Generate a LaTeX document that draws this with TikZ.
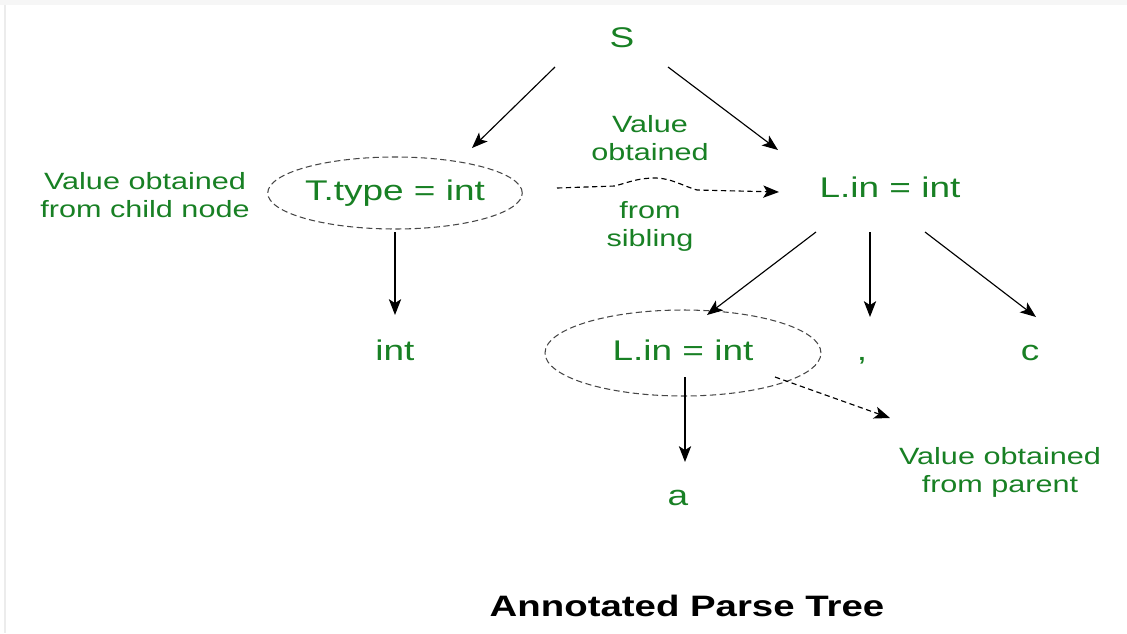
\documentclass[tikz,border=0pt]{standalone}
\usepackage{fontspec}
\setmainfont{Liberation Sans}[FakeStretch=1.3]
\usetikzlibrary{shapes.geometric,arrows.meta,calc}
\definecolor{treegreen}{RGB}{24,128,36}
\definecolor{ovalgray}{RGB}{70,70,70}

\begin{document}
\begin{tikzpicture}[x=0.02cm,y=-0.02cm,
		tnode/.style={text=treegreen,font=\fontsize{16.2}{19}\selectfont,text height=11.6pt,text depth=3.4pt,inner sep=2pt},
		note/.style={text=treegreen,font=\fontsize{13.4}{16}\selectfont,align=center,inner sep=1pt},
		oval/.style={ellipse,draw=ovalgray,line width=0.6pt,dash pattern=on 3.5pt off 2pt,inner xsep=0pt},
		arr/.style={line width=0.65pt,-{Stealth[length=9pt,width=7pt,inset=2.2pt]}},
		dasharr/.style={arr,dash pattern=on 3pt off 2pt}]
	\useasboundingbox (0,0) rectangle (1127,633);
	\fill[gray!7] (0,0) rectangle (1127,5);
	\draw[gray!15,line width=1.2pt] (5,5) -- (5,633);

	\node[tnode] (s) at (622,40) {S};
	\node[tnode,oval,minimum height=1.44cm] (ttype) at (395,193) {T.type = int};
	\node[tnode] (int) at (395,353) {int};
	\node[tnode] (ltop) at (890,190) {L.in = int};
	\node[tnode,oval,minimum width=5.52cm,minimum height=1.72cm] (llow) at (683,353) {L.in = int};
	\node[tnode] (comma) at (862,353) {,};
	\node[tnode] (c) at (1030,353) {c};
	\node[tnode] (a) at (678,498) {a};

	\node[note] (childnote) at (145,195) {Value obtained\\from child node};
	\node[note] (sibnote1) at (650,138) {Value\\obtained};
	\node[note] (sibnote2) at (650,226) {from\\sibling};
	\node[note] (parentnote) at (1000,472) {Value obtained\\from parent};

	\draw[arr] ($(s)+(-67,27)$) -- ($(ttype)+(77,-45)$);
	\draw[arr] ($(s)+(46,27)$) -- ($(ltop)+(-112,-40)$);
	\draw[arr] ($(ttype)+(0,39)$) -- ($(int)+(0,-38)$);
	\draw[dasharr] ($(ttype)+(162,-5)$) -- ++(58,-2)
		.. controls +(14,-4) and +(-16,0) .. ++(40,-8)
		.. controls +(16,0) and +(-14,-4) .. ++(42,12)
		-- ($(ltop)+(-111,2)$);
	\draw[arr] ($(ltop)+(-74,42)$) -- ($(llow)+(24,-38)$);
	\draw[arr] ($(ltop)+(-20,42)$) -- ($(comma)+(8,-36)$);
	\draw[arr] ($(ltop)+(35,42)$) -- ($(c)+(6,-36)$);
	\draw[arr] ($(llow)+(2,24)$) -- ($(a)+(7,-36)$);
	\draw[dasharr] ($(llow)+(92,24)$) -- ($(parentnote)+(-110,-54)$);

	\node[font=\bfseries\fontsize{16.8}{20}\selectfont] (caption) at (687,606) {Annotated Parse Tree};
\end{tikzpicture}
\end{document}
